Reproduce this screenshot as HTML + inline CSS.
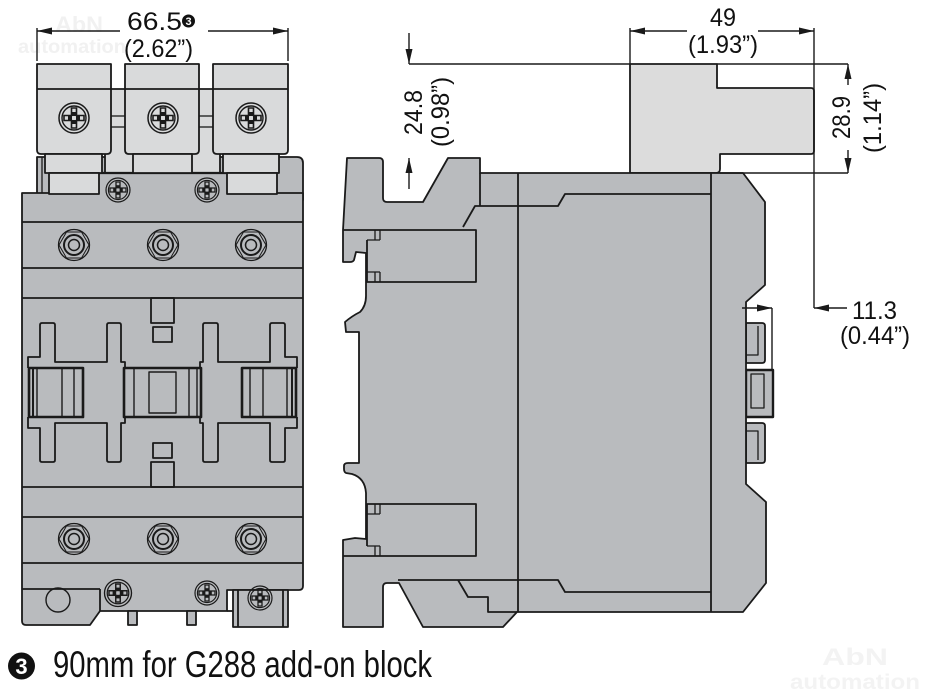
<!DOCTYPE html>
<html><head><meta charset="utf-8"><style>
html,body{margin:0;padding:0;background:#fff;}
body{width:930px;height:693px;overflow:hidden;}
svg{display:block;}
text{font-family:"Liberation Sans",sans-serif;fill:#111;}
</style></head><body>
<svg width="930" height="693" viewBox="0 0 930 693" xmlns="http://www.w3.org/2000/svg">
<defs>
<g id="screw" fill="none" stroke="#1a1a1a">
<circle r="15" stroke-width="1.5"/>
<circle r="12" stroke-width="1.4"/>
<path d="M-2.5,-10 H2.5 V-2.5 H10 V2.5 H2.5 V10 H-2.5 V2.5 H-10 V-2.5 H-2.5 Z" stroke-width="1.6"/>
<rect x="-6" y="-2" width="4" height="4" fill="#1a1a1a" stroke="none"/>
<rect x="2" y="-2" width="4" height="4" fill="#1a1a1a" stroke="none"/>
<rect x="-2" y="-6" width="4" height="4" fill="#1a1a1a" stroke="none"/>
<rect x="-2" y="2" width="4" height="4" fill="#1a1a1a" stroke="none"/>
</g>
<g id="nut" fill="none" stroke="#1a1a1a">
<circle r="15.5" stroke-width="1.3"/>
<polygon points="15,0 7.5,13 -7.5,13 -15,0 -7.5,-13 7.5,-13" stroke-width="1"/>
<circle r="10" stroke-width="2"/>
<circle r="5.5" stroke-width="1.5"/>
</g>
</defs>

<!-- watermarks -->
<g font-weight="bold">
<text x="55" y="32" font-size="22" style="fill:#f1f1f1" textLength="48" lengthAdjust="spacingAndGlyphs">AbN</text>
<text x="18" y="53" font-size="19" style="fill:#f1f1f1" textLength="108" lengthAdjust="spacingAndGlyphs">automation</text>
<text x="822" y="665" font-size="24" style="fill:#f3f3f3" textLength="66" lengthAdjust="spacingAndGlyphs">AbN</text>
<text x="790" y="689" font-size="21" style="fill:#f3f3f3" textLength="130" lengthAdjust="spacingAndGlyphs">automation</text>
</g>

<!-- ================= FRONT VIEW ================= -->
<g stroke="#1a1a1a" stroke-width="1.8" stroke-linejoin="round">
<path d="M37,157 H297 Q303,157 303,163 V200 H37 Z" fill="#b9bbbe"/>
<line x1="42" y1="157" x2="42" y2="193" stroke-width="1.3"/>
<rect x="105" y="89" width="115" height="84" fill="#d9dadb"/>
<line x1="111" y1="116" x2="125" y2="116" stroke-width="1.3"/>
<line x1="111" y1="127" x2="125" y2="127" stroke-width="1.3"/>
<line x1="199" y1="116" x2="213" y2="116" stroke-width="1.3"/>
<line x1="199" y1="127" x2="213" y2="127" stroke-width="1.3"/>
<path d="M22,193 H303 V586 Q303,590 299,590 H227 V611 H100 L90,625 H26 Q22,625 22,621 Z" fill="#b9bbbe"/>
<rect x="99" y="173" width="128" height="21" fill="#b9bbbe" stroke="none"/>
<line x1="99" y1="173" x2="227" y2="173" stroke-width="2.2"/>
<path d="M37,64 H111 V150 Q111,154 107,154 H41 Q37,154 37,150 Z" fill="#d9dadb"/>
<line x1="37" y1="89" x2="111" y2="89"/>
<path d="M125,64 H199 V150 Q199,154 195,154 H129 Q125,154 125,150 Z" fill="#d9dadb"/>
<line x1="125" y1="89" x2="199" y2="89"/>
<path d="M213,64 H288 V150 Q288,154 284,154 H217 Q213,154 213,150 Z" fill="#d9dadb"/>
<line x1="213" y1="89" x2="288" y2="89"/>
<rect x="45" y="154" width="57" height="19" fill="#d9dadb"/>
<rect x="49" y="173" width="50" height="21" fill="#d9dadb"/>
<rect x="133" y="154" width="59" height="19" fill="#d9dadb"/>
<rect x="223" y="154" width="56" height="19" fill="#d9dadb"/>
<rect x="227" y="173" width="50" height="21" fill="#d9dadb"/>
<line x1="22" y1="222" x2="303" y2="222"/>
<line x1="22" y1="268" x2="303" y2="268"/>
<line x1="22" y1="298" x2="303" y2="298"/>
<line x1="22" y1="487" x2="303" y2="487"/>
<line x1="22" y1="517" x2="303" y2="517"/>
<line x1="22" y1="563" x2="303" y2="563"/>
<rect x="151" y="298" width="23" height="25" fill="none"/>
<rect x="153" y="327" width="19" height="15" fill="none"/>
<rect x="153" y="443" width="19" height="15" fill="none"/>
<rect x="151" y="462" width="23" height="25" fill="none"/>
<path d="M28,368 V357 H40 V325 Q40,323 42,323 H53 Q55,323 55,325 V362 H107 V325 Q107,323 109,323 H119 Q121,323 121,325 V362 H125 V368" fill="none"/>
<path d="M200,368 V362 H203 V325 Q203,323 205,323 H216 Q218,323 218,325 V362 H270 V325 Q270,323 272,323 H283 Q285,323 285,325 V357 H297 V368" fill="none"/>
<path d="M28,417 V428 H40 V460 Q40,462 42,462 H53 Q55,462 55,460 V423 H107 V460 Q107,462 109,462 H119 Q121,462 121,460 V423 H125 V417" fill="none"/>
<path d="M200,417 V423 H203 V460 Q203,462 205,462 H216 Q218,462 218,460 V423 H270 V460 Q270,462 272,462 H283 Q285,462 285,460 V428 H297 V417" fill="none"/>
<rect x="29" y="368" width="54" height="49" fill="#b9bbbe" stroke-width="2.6"/>
<line x1="33" y1="368" x2="33" y2="417" stroke-width="2"/>
<line x1="37" y1="368" x2="37" y2="417" stroke-width="1.4"/>
<line x1="62" y1="368" x2="62" y2="417" stroke-width="1.4"/>
<line x1="74" y1="368" x2="74" y2="417" stroke-width="1.4"/>
<rect x="124" y="368" width="77" height="49" fill="#b9bbbe" stroke-width="2.6"/>
<line x1="134" y1="368" x2="134" y2="417" stroke-width="1.4"/>
<rect x="149" y="372" width="27" height="41" fill="none" stroke-width="1.4"/>
<line x1="189" y1="368" x2="189" y2="417" stroke-width="1.4"/>
<line x1="197" y1="368" x2="197" y2="417" stroke-width="1.4"/>
<rect x="242" y="368" width="54" height="49" fill="#b9bbbe" stroke-width="2.6"/>
<line x1="250" y1="368" x2="250" y2="417" stroke-width="1.4"/>
<line x1="263" y1="368" x2="263" y2="417" stroke-width="1.4"/>
<line x1="287" y1="368" x2="287" y2="417" stroke-width="1.4"/>
<line x1="292" y1="368" x2="292" y2="417" stroke-width="2"/>
<line x1="22" y1="589" x2="100" y2="589"/>
<line x1="100" y1="589" x2="100" y2="611"/>
<circle cx="58" cy="600" r="12" fill="none" stroke-width="1.4"/>
<rect x="128" y="611" width="9" height="14" fill="#b9bbbe"/>
<rect x="187" y="611" width="9" height="14" fill="#b9bbbe"/>
<rect x="233" y="590" width="55" height="37" fill="#b9bbbe"/>
<line x1="238" y1="590" x2="238" y2="627"/>
<line x1="283" y1="590" x2="283" y2="627"/>
<line x1="227" y1="611" x2="233" y2="611"/>
</g>
<use href="#screw" transform="translate(74,118)"/>
<use href="#screw" transform="translate(163,118)"/>
<use href="#screw" transform="translate(251,118)"/>
<use href="#screw" transform="translate(118,190) scale(0.8)"/>
<use href="#screw" transform="translate(207,190) scale(0.8)"/>
<use href="#screw" transform="translate(118,593) scale(0.9)"/>
<use href="#screw" transform="translate(207,593) scale(0.8)"/>
<use href="#screw" transform="translate(260,598) scale(0.8)"/>
<use href="#nut" transform="translate(74,245)"/>
<use href="#nut" transform="translate(163,245)"/>
<use href="#nut" transform="translate(251,245)"/>
<use href="#nut" transform="translate(74,539)"/>
<use href="#nut" transform="translate(163,539)"/>
<use href="#nut" transform="translate(251,539)"/>

<g stroke="#1a1a1a" stroke-width="1.4" fill="none">
<line x1="37" y1="28" x2="37" y2="61"/>
<line x1="288" y1="28" x2="288" y2="61"/>
<line x1="37" y1="31" x2="120" y2="31"/>
<line x1="208" y1="31" x2="288" y2="31"/>
</g>
<g fill="#1a1a1a">
<polygon points="37,31 52,27.5 52,34.5"/>
<polygon points="288,31 273,27.5 273,34.5"/>
</g>
<text x="127" y="30" font-size="25" textLength="55" lengthAdjust="spacingAndGlyphs">66.5</text>
<circle cx="188.5" cy="21" r="6.5" fill="#111"/>
<text x="188.5" y="25" font-size="11" font-weight="bold" text-anchor="middle" style="fill:#fff">3</text>
<text x="124" y="57" font-size="25" textLength="69" lengthAdjust="spacingAndGlyphs">(2.62”)</text>

<!-- ================= SIDE VIEW ================= -->
<g stroke="#1a1a1a" stroke-width="1.8" stroke-linejoin="round" fill="none">
<path d="M630,64 H717 V88 H811 Q814,88 814,91 V151 Q814,154 811,154 H720 V169 Q720,173 716,173 H630 Z" fill="#dcdcdc"/>
<path d="M746,323 H762 Q765,323 765,326 V360 Q765,363 762,363 H746 Z" fill="#b9bbbe"/>
<path d="M758,326 V355 H746" stroke-width="1.3"/>
<rect x="746" y="370" width="27" height="47" fill="#b9bbbe" stroke-width="2.4"/>
<rect x="751" y="374" width="13" height="34" stroke-width="1.3"/>
<path d="M746,423 H762 Q765,423 765,426 V460 Q765,463 762,463 H746 Z" fill="#b9bbbe"/>
<path d="M746,431 H758 V460" stroke-width="1.3"/>
<path d="M347,158 L379,158 Q383,158 383,162 L383,198 Q383,202 387,202 L423,202 L448,158 L480,158 L480,173 L743,173 L765,202 L765,285 L746,302 L746,484 L766,502 L766,583 L743,612 L517,612 L503,627 L423,627 L399,583 L387,583 Q383,583 383,587 L383,627 L343,627 L343,540 L355,538 L366,539 L366,493 Q365,478 352,474 L346,473 Q344,472 344,469 L344,466 Q344,463 348,463 L359,463 L359,332 L346,332 L345,322 Q352,316 360,312 Q366,306 366,296 L366,253 L356,252 L354,260 Q353,262 350,262 L343,262 L343,230 Z" fill="#b9bbbe"/>
<path d="M343,230 H476 V282 H367 V240"/>
<path d="M367,240 H380 M375,230 V240 M380,230 V240 M367,272 H380 M375,272 V282 M380,272 V282" stroke-width="1.3"/>
<path d="M343,556 H476 V504 H367 V546"/>
<path d="M367,514 H380 M375,504 V514 M380,504 V514 M367,546 H380 M375,546 V556 M380,546 V556" stroke-width="1.3"/>
<line x1="480" y1="173" x2="480" y2="206"/>
<path d="M463,227 L475,206 H558 L565,194 H711"/>
<line x1="518" y1="173" x2="518" y2="612"/>
<line x1="711" y1="173" x2="711" y2="612"/>
<path d="M398,580 H558 L565,592 H711"/>
<path d="M458,580 L468,597 H488 V612 H517"/>
</g>

<g stroke="#1a1a1a" stroke-width="1.4" fill="none">
<line x1="409" y1="33" x2="409" y2="64"/>
<line x1="409" y1="64" x2="630" y2="64"/>
<line x1="409" y1="158" x2="409" y2="189"/>
<line x1="630" y1="28" x2="630" y2="64"/>
<line x1="814" y1="28" x2="814" y2="308"/>
<line x1="630" y1="31" x2="687" y2="31"/>
<line x1="758" y1="31" x2="814" y2="31"/>
<line x1="717" y1="64" x2="848" y2="64"/>
<line x1="720" y1="173" x2="848" y2="173"/>
<line x1="848" y1="64" x2="848" y2="85"/>
<line x1="848" y1="150" x2="848" y2="173"/>
<line x1="814" y1="308" x2="847" y2="308"/>
<line x1="742" y1="308" x2="772" y2="308"/>
<line x1="772" y1="308" x2="772" y2="370"/>
</g>
<g fill="#1a1a1a">
<polygon points="409,64 405.5,49 412.5,49"/>
<polygon points="409,158 405.5,173 412.5,173"/>
<polygon points="630,31 645,27.5 645,34.5"/>
<polygon points="814,31 799,27.5 799,34.5"/>
<polygon points="848,64 844.5,79 851.5,79"/>
<polygon points="848,173 844.5,158 851.5,158"/>
<polygon points="814,308 829,304.5 829,311.5"/>
<polygon points="772,308 757,304.5 757,311.5"/>
</g>
<text x="710" y="26" font-size="25" textLength="26" lengthAdjust="spacingAndGlyphs">49</text>
<text x="688" y="53" font-size="25" textLength="70" lengthAdjust="spacingAndGlyphs">(1.93”)</text>
<text transform="translate(422,135) rotate(-90)" font-size="25" textLength="45" lengthAdjust="spacingAndGlyphs">24.8</text>
<text transform="translate(449,147) rotate(-90)" font-size="25" textLength="70" lengthAdjust="spacingAndGlyphs">(0.98”)</text>
<text transform="translate(850,139) rotate(-90)" font-size="25" textLength="43" lengthAdjust="spacingAndGlyphs">28.9</text>
<text transform="translate(881,153) rotate(-90)" font-size="25" textLength="70" lengthAdjust="spacingAndGlyphs">(1.14”)</text>
<text x="852" y="319" font-size="25" textLength="45" lengthAdjust="spacingAndGlyphs">11.3</text>
<text x="840" y="344" font-size="25" textLength="70" lengthAdjust="spacingAndGlyphs">(0.44”)</text>

<circle cx="21.5" cy="666" r="13.5" fill="#111"/>
<text x="21.5" y="674" font-size="22" font-weight="bold" text-anchor="middle" style="fill:#fff">3</text>
<text x="53" y="677" font-size="37" textLength="379" lengthAdjust="spacingAndGlyphs">90mm for G288 add-on block</text>
</svg>
</body></html>
